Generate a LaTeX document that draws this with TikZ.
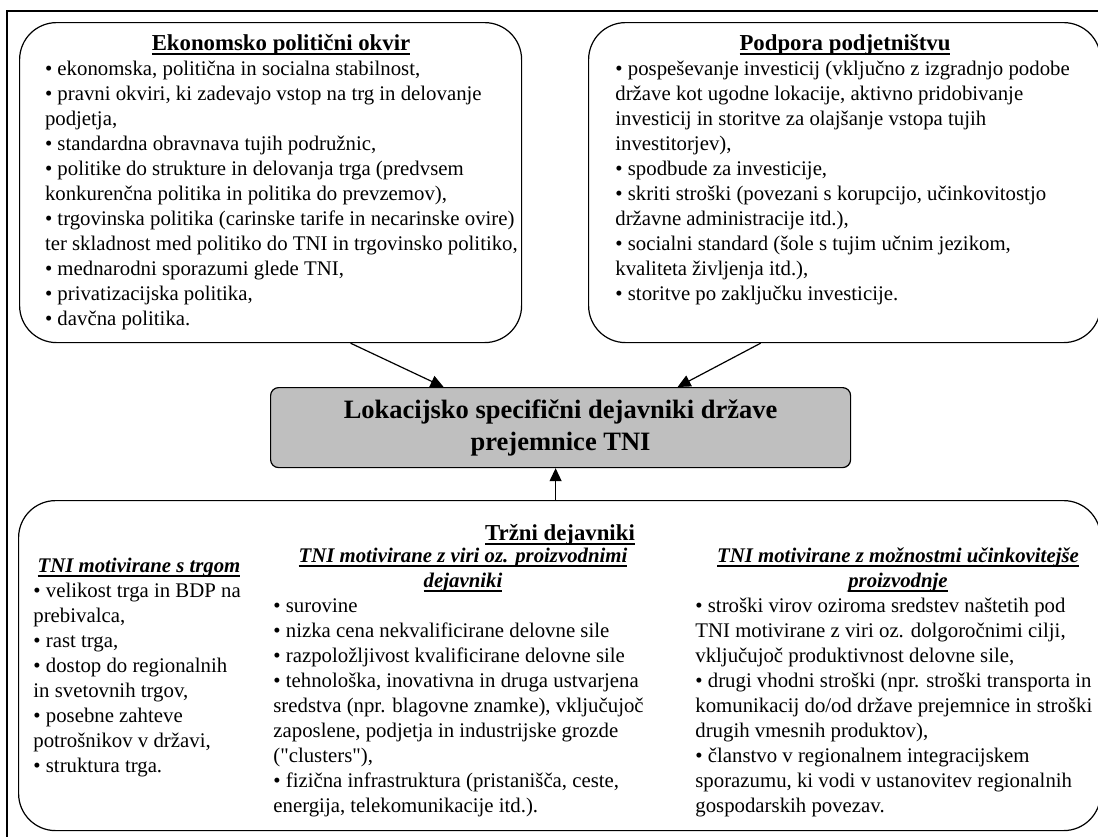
\documentclass[tikz,border=0pt]{standalone}
\usepackage{fontspec}
\setmainfont{Liberation Serif}[Ligatures=TeXOff]
\usetikzlibrary{arrows.meta}
\definecolor{siva}{rgb}{0.75, 0.75, 0.75}
\newcommand{\glava}{\fontsize{11.4}{13}\selectfont\bfseries}
\newcommand{\podglava}{\fontsize{10.4}{12.5}\selectfont\bfseries\itshape}
\newcommand{\sredina}{\fontsize{13.25}{16}\selectfont\bfseries}
\newcommand{\crta}[1]{\leavevmode\setbox0=\hbox{#1}\rlap{\copy0}\rule[-2.4pt]{\wd0}{0.8pt}}
\newcommand{\seznam}[3][12.5pt]{\parbox[t]{#2}{\fontsize{10.4}{#1}\selectfont\raggedright #3}}
\newcommand{\dvevrstici}[2]{\parbox[t]{220pt}{\centering\podglava \crta{#1}\\\crta{#2}}}
\tikzset{
  okvir/.style={draw, line width=0.6pt, rounded corners=18.5pt, anchor=north west},
  besedilo/.style={anchor=base west, inner sep=0pt},
  naslov/.style={anchor=base, inner sep=0pt, font=\glava},
  podnaslov/.style={anchor=base, inner sep=0pt, font=\podglava},
  puscica/.style={-{Triangle[length=6.5pt, width=6pt]}, line width=0.6pt}
}

\begin{document}
\begin{tikzpicture}[x=0.5pt, y=-0.5pt]
\useasboundingbox (0, 0) rectangle (1098, 836);
\draw [line width=0.6pt] (7, 11) rectangle (1110, 850);
% okvirji
\node [okvir, minimum width=251pt, minimum height=160pt] (ekon) at (19, 22) {};
\node [okvir, minimum width=256pt, minimum height=160pt] (podp) at (588, 22) {};
\node [okvir, minimum width=541pt, minimum height=165pt] (trg) at (18, 500) {};
\node [draw, fill=siva, line width=0.6pt, rounded corners=4pt, anchor=north west,
  minimum width=290pt, minimum height=40pt, align=center, font=\sredina] (lok)
  at (270, 387) {Lokacijsko specifični dejavniki države\\prejemnice TNI};
% Ekonomsko politicni okvir
\node [naslov] (ekonnaslov) at (281, 50) {\crta{Ekonomsko politični okvir}};
\node [besedilo] (ekonseznam) at (44.6, 75) {\seznam{250pt}{%
• ekonomska, politična in socialna stabilnost,\\
• pravni okviri, ki zadevajo vstop na trg in delovanje\\
podjetja,\\
• standardna obravnava tujih podružnic,\\
• politike do strukture in delovanja trga (predvsem\\
konkurenčna politika in politika do prevzemov),\\
• trgovinska politika (carinske tarife in necarinske ovire)\\
ter skladnost med politiko do TNI in trgovinsko politiko,\\
• mednarodni sporazumi glede TNI,\\
• privatizacijska politika,\\
• davčna politika.}};
% Podpora podjetnistvu
\node [naslov] (podpnaslov) at (845, 50) {\crta{Podpora podjetništvu}};
\node [besedilo] (podpseznam) at (615, 75) {\seznam{240pt}{%
• pospeševanje investicij (vključno z izgradnjo podobe\\
države kot ugodne lokacije, aktivno pridobivanje\\
investicij in storitve za olajšanje vstopa tujih\\
investitorjev),\\
• spodbude za investicije,\\
• skriti stroški (povezani s korupcijo, učinkovitostjo\\
državne administracije itd.),\\
• socialni standard (šole s tujim učnim jezikom,\\
kvaliteta življenja itd.),\\
• storitve po zaključku investicije.}};
% Trzni dejavniki
\node [naslov] (trgnaslov) at (560, 540) {\crta{Tržni dejavniki}};
\node [podnaslov] (trgomnaslov) at (139, 572) {\crta{TNI motivirane s trgom}};
\node [besedilo] (trgomseznam) at (33, 597) {\seznam{120pt}{%
• velikost trga in BDP na\\
prebivalca,\\
• rast trga,\\
• dostop do regionalnih\\
in svetovnih trgov,\\
• posebne zahteve\\
potrošnikov v državi,\\
• struktura trga.}};
\node [anchor=base, inner sep=0pt] (virinaslov) at (463, 562)
  {\dvevrstici{TNI motivirane z viri oz. proizvodnimi}{dejavniki}};
\node [besedilo] (viriseznam) at (273, 612) {\seznam{200pt}{%
• surovine\\
• nizka cena nekvalificirane delovne sile\\
• razpoložljivost kvalificirane delovne sile\\
• tehnološka, inovativna in druga ustvarjena\\
sredstva (npr. blagovne znamke), vključujoč\\
zaposlene, podjetja in industrijske grozde\\
("clusters"),\\
• fizična infrastruktura (pristanišča, ceste,\\
energija, telekomunikacije itd.).}};
\node [anchor=base, inner sep=0pt] (ucinnaslov) at (898, 562)
  {\dvevrstici{TNI motivirane z možnostmi učinkovitejše}{proizvodnje}};
\node [besedilo] (ucinseznam) at (695, 612) {\seznam{200pt}{%
• stroški virov oziroma sredstev naštetih pod\\
TNI motivirane z viri oz. dolgoročnimi cilji,\\
vključujoč produktivnost delovne sile,\\
• drugi vhodni stroški (npr. stroški transporta in\\
komunikacij do/od države prejemnice in stroški\\
drugih vmesnih produktov),\\
• članstvo v regionalnem integracijskem\\
sporazumu, ki vodi v ustanovitev regionalnih\\
gospodarskih povezav.}};
% puscice
\coordinate (dno) at ([xshift=-2.5pt]lok.south);
\draw [puscica] ([xshift=40pt]ekon.south) -- ([xshift=-58.5pt]lok.north);
\draw [puscica] ([xshift=-42pt]podp.south) -- ([xshift=58.5pt]lok.north);
\draw [puscica] (dno |- trg.north) -- (dno);
\end{tikzpicture}
\end{document}
